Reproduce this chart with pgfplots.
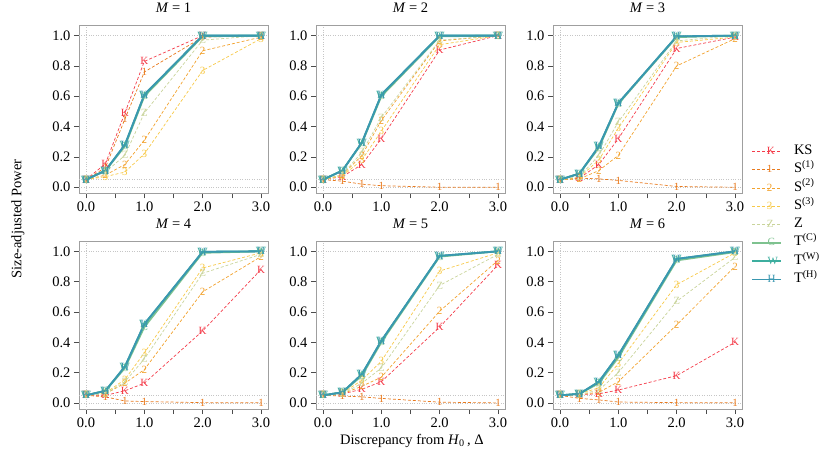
\documentclass[border=0pt]{standalone}
\usepackage{fontspec}
\setmainfont{Liberation Serif}
\usepackage{pgfplots}
\pgfplotsset{compat=1.18}
\usepackage{pgfplotstable}

\definecolor{cK}{HTML}{F43C4A}
\definecolor{c1}{HTML}{E87A1E}
\definecolor{c2}{HTML}{F2A22E}
\definecolor{c3}{HTML}{F7C948}
\definecolor{cZ}{HTML}{C9D49B}
\definecolor{cC}{HTML}{7EC28F}
\definecolor{cW}{HTML}{3DAE9F}
\definecolor{cH}{HTML}{3A97B0}

\pgfplotstableread{
x K S1 S2 S3 Z C W H
0 0.05 0.05 0.05 0.05 0.05 0.05 0.05 0.05
0.3333 0.155 0.13 0.08 0.07 0.10 0.11 0.11 0.11
0.6667 0.49 0.45 0.15 0.10 0.21 0.27 0.28 0.28
1 0.83 0.76 0.31 0.22 0.49 0.60 0.61 0.61
2 1.0 0.99 0.90 0.77 0.97 0.995 1.0 1.0
3 1.0 1.0 0.99 0.98 1.0 1.0 1.0 1.0
}\tabA
\pgfplotstableread{
x K S1 S2 S3 Z C W H
0 0.05 0.05 0.05 0.05 0.05 0.05 0.05 0.05
0.3333 0.07 0.04 0.08 0.075 0.085 0.11 0.11 0.11
0.6667 0.15 0.02 0.21 0.18 0.23 0.29 0.295 0.295
1 0.32 0.01 0.44 0.37 0.46 0.60 0.61 0.61
2 0.905 0.0 0.965 0.94 0.97 0.995 1.0 1.0
3 1.0 0.0 1.0 1.0 1.0 1.0 1.0 1.0
}\tabB
\pgfplotstableread{
x K S1 S2 S3 Z C W H
0 0.05 0.05 0.05 0.05 0.05 0.05 0.05 0.05
0.3333 0.06 0.06 0.055 0.065 0.07 0.09 0.09 0.09
0.6667 0.15 0.055 0.11 0.18 0.21 0.26 0.27 0.27
1 0.32 0.045 0.21 0.39 0.43 0.55 0.555 0.555
2 0.915 0.005 0.80 0.955 0.965 0.99 0.995 0.995
3 0.99 0.0 0.98 0.99 1.0 1.0 1.0 1.0
}\tabC
\pgfplotstableread{
x K S1 S2 S3 Z C W H
0 0.05 0.05 0.05 0.05 0.05 0.05 0.05 0.05
0.3333 0.05 0.04 0.06 0.065 0.06 0.08 0.08 0.08
0.6667 0.08 0.013 0.13 0.155 0.14 0.23 0.24 0.24
1 0.13 0.009 0.22 0.33 0.29 0.50 0.52 0.52
2 0.475 0.002 0.733 0.89 0.855 0.99 0.997 0.997
3 0.88 0.001 0.965 0.99 0.98 1.0 1.0 1.0
}\tabD
\pgfplotstableread{
x K S1 S2 S3 Z C W H
0 0.05 0.05 0.05 0.05 0.05 0.05 0.05 0.05
0.3333 0.06 0.045 0.06 0.065 0.06 0.07 0.07 0.07
0.6667 0.09 0.04 0.11 0.15 0.13 0.18 0.19 0.19
1 0.14 0.03 0.17 0.275 0.23 0.40 0.41 0.41
2 0.50 0.005 0.605 0.87 0.775 0.965 0.97 0.97
3 0.91 0.0 0.94 0.99 0.98 1.0 1.0 1.0
}\tabE
\pgfplotstableread{
x K S1 S2 S3 Z C W H
0 0.05 0.05 0.05 0.05 0.05 0.05 0.05 0.05
0.3333 0.055 0.03 0.055 0.06 0.055 0.06 0.06 0.06
0.6667 0.06 0.02 0.07 0.10 0.085 0.13 0.14 0.14
1 0.085 0.006 0.14 0.26 0.20 0.30 0.315 0.315
2 0.18 0.002 0.515 0.78 0.67 0.94 0.95 0.95
3 0.40 0.001 0.90 0.99 0.96 0.995 1.0 1.0
}\tabF

\pgfplotsset{
  panel/.style={
    scale only axis, width=189pt, height=167.4pt,
    xmin=-0.12, xmax=3.12, ymin=-0.04, ymax=1.064,
    xtick={0,0.5,1,1.5,2,2.5,3}, xticklabels={0.0,,1.0,,2.0,,3.0},
    ytick={0,0.2,0.4,0.6,0.8,1.0}, yticklabels={0.0,0.2,0.4,0.6,0.8,1.0},
    tick pos=left, tick align=outside, major tick length=5pt,
    axis line style={gray!75, line width=0.8pt},
    tick style={gray!60!black, line width=0.6pt},
    extra y ticks={0,0.05,1}, extra y tick labels={},
    extra y tick style={grid=major, major grid style={gray!45, dotted, line width=0.5pt}, major tick length=0pt},
    extra x ticks={0}, extra x tick labels={},
    extra x tick style={grid=major, major grid style={gray!45, dotted, line width=0.5pt}, major tick length=0pt},
    font=\fontsize{14.5}{16}\selectfont,
    title style={at={(0.5,1)}, anchor=base, yshift=7pt},
    text mark as node=true,
    text mark style={font=\fontsize{11}{11}\selectfont, inner sep=0pt},
    legend image code/.code={\draw[mark repeat=2,mark phase=2,##1] plot coordinates {(0pt,0pt)(14.5pt,0pt)(29pt,0pt)};},
  },
}
\newcommand{\plotall}[1]{%
  \addplot[color=cK, dash pattern=on 3pt off 2pt, line width=0.7pt, mark=text, text mark={K}] table[x=x,y=K]{#1};
  \addplot[color=c1, dash pattern=on 3pt off 2pt, line width=0.7pt, mark=text, text mark={1}] table[x=x,y=S1]{#1};
  \addplot[color=c2, dash pattern=on 3pt off 2pt, line width=0.7pt, mark=text, text mark={2}] table[x=x,y=S2]{#1};
  \addplot[color=c3, dash pattern=on 3pt off 2pt, line width=0.7pt, mark=text, text mark={3}] table[x=x,y=S3]{#1};
  \addplot[color=cZ, dash pattern=on 3pt off 2pt, line width=0.7pt, mark=text, text mark={Z}] table[x=x,y=Z]{#1};
  \addplot[color=cC, solid, line width=1.8pt, mark=text, text mark={C}] table[x=x,y=C]{#1};
  \addplot[color=cW, solid, line width=1.8pt, mark=text, text mark={W}] table[x=x,y=W]{#1};
  \addplot[color=cH, solid, line width=1.8pt, mark=text, text mark={H}] table[x=x,y=H]{#1};
}

\begin{document}
\begin{tikzpicture}
\path[use as bounding box] (0pt,0pt) rectangle (830pt,455pt);
\begin{axis}[panel, at={(79pt,261.7pt)}, anchor=south west, title={\textit{M} = 1}]
\plotall{\tabA}
\end{axis}
\begin{axis}[panel, at={(316pt,261.7pt)}, anchor=south west, title={\textit{M} = 2}]
\plotall{\tabB}
\end{axis}
\begin{axis}[panel, at={(553pt,261.7pt)}, anchor=south west, title={\textit{M} = 3},
  legend style={at={(1.0476,0.29)}, anchor=north west, draw=none, fill=none, inner sep=0pt,
    column sep=12pt, row sep=5.3pt, nodes={inner sep=0pt, text height=9.5pt, text depth=3.5pt},
    font=\fontsize{14.5}{16}\selectfont},
  legend cell align=left]
\plotall{\tabC}
\legend{KS, S\textsuperscript{(1)}, S\textsuperscript{(2)}, S\textsuperscript{(3)}, Z, T\textsuperscript{(C)}, T\textsuperscript{(W)}, T\textsuperscript{(H)}}
\end{axis}
\begin{axis}[panel, at={(79pt,46pt)}, anchor=south west, title={\textit{M} = 4}]
\plotall{\tabD}
\end{axis}
\begin{axis}[panel, at={(316pt,46pt)}, anchor=south west, title={\textit{M} = 5}]
\plotall{\tabE}
\end{axis}
\begin{axis}[panel, at={(553pt,46pt)}, anchor=south west, title={\textit{M} = 6}]
\plotall{\tabF}
\end{axis}
\node[rotate=90, font=\fontsize{14.5}{16}\selectfont] at (18pt,236pt) {Size-adjusted Power};
\node[font=\fontsize{14.5}{16}\selectfont] at (412pt,14pt) {Discrepancy from \textit{H}\textsubscript{0}\,, Δ};
\end{tikzpicture}
\end{document}
